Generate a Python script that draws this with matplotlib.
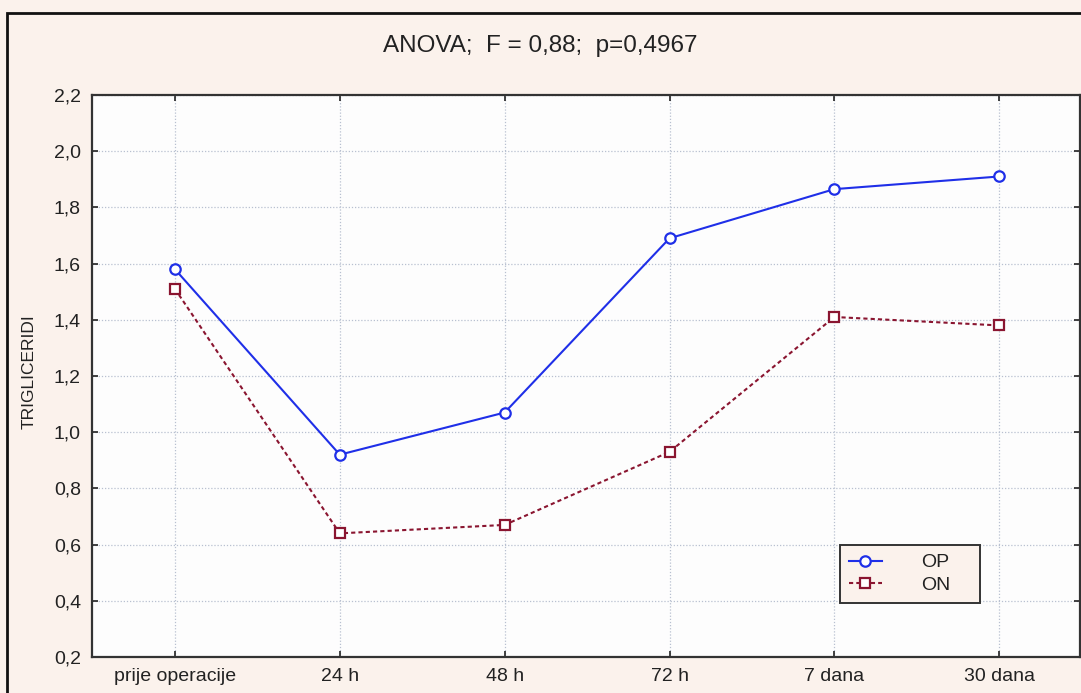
import matplotlib.pyplot as plt
from matplotlib.patches import Rectangle
from matplotlib.ticker import FuncFormatter

# data
vremena = ['prije operacije', '24 h', '48 h', '72 h', '7 dana', '30 dana']
op = [1.58, 0.92, 1.07, 1.69, 1.865, 1.91]
on = [1.51, 0.64, 0.67, 0.93, 1.41, 1.38]
y_ticks = [0.2, 0.4, 0.6, 0.8, 1.0, 1.2, 1.4, 1.6, 1.8, 2.0, 2.2]

plt.rcParams['font.family'] = ['Liberation Sans', 'DejaVu Sans']

bg = '#fbf2ec'
fig = plt.figure(figsize=(10.81, 6.93), dpi=100, facecolor=bg)
ax = fig.add_axes([92 / 1081, 1 - 657 / 693, (1080 - 92) / 1081, (657 - 95) / 693])
ax.set_facecolor('#fdfdfd')

x = list(range(len(vremena)))
ax.plot(x, op, color='#1f2fe8', lw=1.5, marker='o', ms=7.5, mfc='white',
        mec='#1f2fe8', mew=1.6, label='OP')
ax.plot(x, on, color='#8a1530', lw=1.5, ls=(0, (2, 1.5)), marker='s', ms=7.5,
        mfc='white', mec='#8a1530', mew=1.6, label='ON')

ax.set_xlim(-0.503, 5.49)
ax.set_ylim(0.2, 2.2)
ax.set_xticks(x)
ax.set_xticklabels(vremena)
ax.set_yticks(y_ticks)
ax.yaxis.set_major_formatter(FuncFormatter(lambda v, p: f'{v:.1f}'.replace('.', ',')))
ax.tick_params(direction='in', length=4, width=1.2, top=True, right=True,
               labelsize=14, pad=8, colors='#222222')
ax.grid(True, ls=(0, (1, 1.5)), color='#b8c0d0', lw=0.9)
for s in ax.spines.values():
    s.set_linewidth(1.6)
    s.set_color('#333333')

ax.set_ylabel('TRIGLICERIDI', fontsize=12.5, color='#222222')
ax.yaxis.set_label_coords(-0.056, 0.507)
fig.text(0.5, 1 - 46 / 693, 'ANOVA;  F = 0,88;  p=0,4967', ha='center',
         va='center', fontsize=17.5, color='#222222')

# legend box spans 840..980 px horizontally, 545..601 px vertically
lx0 = (840 - 92) / 988
lw_ = 140 / 988
ly1 = (657 - 545) / 562
lh = 56 / 562
leg = ax.legend(loc='upper left', bbox_to_anchor=(lx0, ly1 - lh, lw_, lh), mode='expand',
                borderaxespad=0, fontsize=14, frameon=True, fancybox=False,
                edgecolor='#333333', facecolor=bg, framealpha=1, handlelength=1.7,
                handletextpad=2.0, borderpad=0.45, labelspacing=0.25)
leg.get_frame().set_linewidth(1.4)
for t in leg.get_texts():
    t.set_color('#222222')

# outer frame of the figure
fig.patches.append(Rectangle((7 / 1081, -0.05), 1.2, 1 - 13 / 693 + 0.05,
                             transform=fig.transFigure, fill=False,
                             edgecolor='#111111', lw=2))

fig.savefig('out.png', dpi=100, facecolor=bg)
